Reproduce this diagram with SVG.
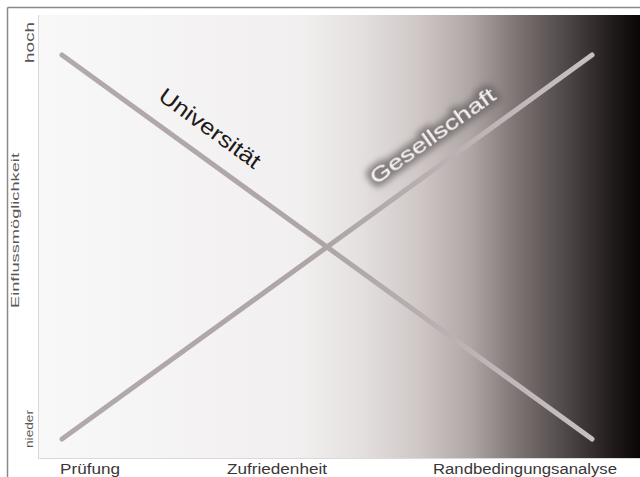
<svg xmlns="http://www.w3.org/2000/svg" width="640" height="477" viewBox="0 0 640 477">
<style>
.lbl{font-family:"Liberation Sans",Arial,sans-serif;fill:#3a3636}
.ax{font-family:"Liberation Sans",Arial,sans-serif;fill:#5a5656}
.ln{fill:none;stroke:url(#lg);stroke-width:5;stroke-linecap:round}
</style>
<defs>
<linearGradient id="bg" x1="38" y1="0" x2="640" y2="0" gradientUnits="userSpaceOnUse">
<stop offset="0" stop-color="#f9f8f8"/>
<stop offset="0.435" stop-color="#f1efef"/>
<stop offset="0.535" stop-color="#e5e0e0"/>
<stop offset="0.635" stop-color="#cec7c6"/>
<stop offset="0.718" stop-color="#afa7a6"/>
<stop offset="0.80" stop-color="#7a7271"/>
<stop offset="0.884" stop-color="#4b4444"/>
<stop offset="0.95" stop-color="#231d1d"/>
<stop offset="1" stop-color="#0a0606"/>
</linearGradient>
<linearGradient id="lg" x1="62" y1="0" x2="592" y2="0" gradientUnits="userSpaceOnUse">
<stop offset="0" stop-color="#b2aaaa"/>
<stop offset="0.5" stop-color="#aea6a6"/>
<stop offset="1" stop-color="#c8c0c0"/>
</linearGradient>
<filter id="halo" x="-20%" y="-60%" width="140%" height="220%">
<feMorphology in="SourceAlpha" operator="dilate" radius="4" result="d"/>
<feGaussianBlur in="d" stdDeviation="3" result="b"/>
<feFlood flood-color="#6a6262" flood-opacity="0.75"/>
<feComposite in2="b" operator="in" result="s"/>
<feMerge><feMergeNode in="s"/><feMergeNode in="SourceGraphic"/></feMerge>
</filter>
</defs>
<rect width="640" height="477" fill="#ffffff"/>
<g id="frame">
<line x1="7.5" y1="7.5" x2="640" y2="7.5" stroke="#8a8888" stroke-width="1.5"/>
<line x1="7.5" y1="7.5" x2="7.5" y2="477" stroke="#8a8888" stroke-width="1.5"/>
</g>
<g id="plot">
<rect x="38" y="15" width="602" height="444" fill="url(#bg)"/>
<line x1="38.5" y1="15" x2="38.5" y2="459" stroke="#dcd8d8" stroke-width="1"/>
<line x1="38" y1="458.5" x2="640" y2="458.5" stroke="#dcd8d8" stroke-width="1"/>
</g>
<g id="connectors">
<line id="universitaet-line" class="ln" x1="62" y1="55" x2="592" y2="439"/>
<line id="gesellschaft-line" class="ln" x1="62" y1="439" x2="592" y2="55"/>
</g>
<g id="universitaet">
<text class="lbl" style="fill:#1e1a1a" font-size="22" transform="translate(157,99) rotate(36)" textLength="120" lengthAdjust="spacingAndGlyphs">Universität</text>
</g>
<g id="gesellschaft">
<text font-family="Liberation Sans,Arial,sans-serif" fill="#f4f2f2" font-size="21" filter="url(#halo)" transform="translate(376,185) rotate(-35.5)" textLength="149" lengthAdjust="spacingAndGlyphs">Gesellschaft</text>
</g>
<g id="y-axis">
<text class="ax" font-size="12" text-anchor="middle" transform="translate(34,42.5) rotate(-90)" textLength="41" lengthAdjust="spacingAndGlyphs">hoch</text>
<text class="ax" font-size="10" text-anchor="middle" transform="translate(19,230.5) rotate(-90)" textLength="155" lengthAdjust="spacingAndGlyphs">Einflussmöglichkeit</text>
<text class="ax" font-size="11" text-anchor="middle" transform="translate(33,429) rotate(-90)" textLength="38" lengthAdjust="spacingAndGlyphs">nieder</text>
</g>
<g id="x-axis">
<text class="lbl" font-size="14" x="60" y="474" textLength="60" lengthAdjust="spacingAndGlyphs">Prüfung</text>
<text class="lbl" font-size="14" x="227" y="474" textLength="100" lengthAdjust="spacingAndGlyphs">Zufriedenheit</text>
<text class="lbl" font-size="14" x="433" y="474" textLength="184" lengthAdjust="spacingAndGlyphs">Randbedingungsanalyse</text>
</g>
</svg>
